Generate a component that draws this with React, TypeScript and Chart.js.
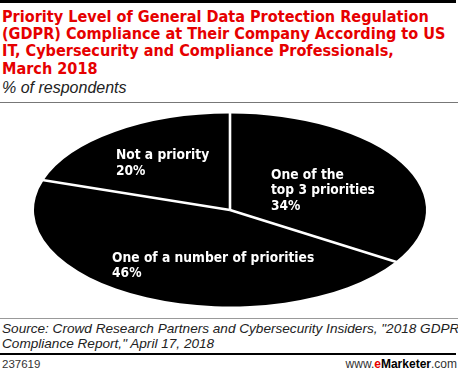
import React, { useEffect, useRef } from "react";
import { Chart, registerables } from "chart.js";

Chart.register(...registerables);

const categories = ["One of the top 3 priorities", "One of a number of priorities", "Not a priority"];
const values = [34, 46, 20];
const labelLines = [["One of the", "top 3 priorities", "34%"], ["One of a number of priorities", "46%"], ["Not a priority", "20%"]];
// label anchor (left, cap top) in ellipse-normalized units relative to pie centre
const labelAnchorsX = [0.209, -0.602, -0.582];
const labelAnchorsY = [-0.425, 0.435, -0.632];

const RX = 196;
const RY = 96.5;
const SY = RY / RX;
const LABEL_FONT = "bold 13.7px 'DejaVu Sans Condensed'";
const LINE_H = 15.5;
const CAP = 10;

const ellipsePlugin = {
  id: "ellipse",
  beforeDatasetDraw(chart: any) {
    const meta = chart.getDatasetMeta(0);
    const a = meta.data[0];
    if (!a) return;
    const ctx = chart.ctx;
    ctx.save();
    ctx.translate(a.x, a.y);
    ctx.scale(1, SY);
    ctx.translate(-a.x, -a.y);
  },
  afterDatasetDraw(chart: any) {
    const ctx = chart.ctx;
    ctx.restore();
    const meta = chart.getDatasetMeta(0);
    ctx.save();
    ctx.strokeStyle = "#ffffff";
    ctx.lineWidth = 2.6;
    meta.data.forEach((arc: any) => {
      const r = arc.outerRadius + 3;
      const ang = arc.startAngle;
      ctx.beginPath();
      ctx.moveTo(arc.x, arc.y);
      ctx.lineTo(arc.x + Math.cos(ang) * r, arc.y + Math.sin(ang) * r * SY);
      ctx.stroke();
    });
    ctx.fillStyle = "#ffffff";
    ctx.font = LABEL_FONT;
    ctx.textAlign = "left";
    ctx.textBaseline = "alphabetic";
    meta.data.forEach((arc: any, i: number) => {
      const lx = arc.x + labelAnchorsX[i] * arc.outerRadius;
      const ly = arc.y + labelAnchorsY[i] * arc.outerRadius * SY + CAP;
      labelLines[i].forEach((t, j) => ctx.fillText(t, lx, ly + j * LINE_H));
    });
    ctx.restore();
  },
};

export default function App() {
  const ref = useRef<HTMLCanvasElement>(null);
  useEffect(() => {
    document.body.style.margin = "0";
    const chart = new Chart(ref.current!, {
      type: "pie",
      data: {
        labels: categories,
        datasets: [
          {
            data: values,
            backgroundColor: "#000000",
            borderWidth: 0,
            radius: RX,
          } as any,
        ],
      },
      options: {
        animation: false,
        responsive: false,
        events: [],
        layout: { padding: { left: 2, right: 0, top: 0, bottom: 0 } },
        plugins: { legend: { display: false }, tooltip: { enabled: false } },
      },
      plugins: [ellipsePlugin],
    });
    return () => chart.destroy();
  }, []);

  const sans = "'Liberation Sans', Arial, sans-serif";
  return (
    <div style={{ position: "absolute", left: 0, top: 0, width: 458, height: 371, background: "#fff", overflow: "hidden" }}>
      <div style={{ position: "absolute", left: 0, top: 0, width: 456, height: 3, background: "#000" }} />
      <div
        style={{
          position: "absolute",
          left: 2,
          top: 7.5,
          width: 456,
          font: "bold 16.1px 'DejaVu Sans Condensed'",
          lineHeight: "17.4px",
          color: "#e60000",
          whiteSpace: "nowrap",
        }}
      >
        <div>Priority Level of General Data Protection Regulation</div>
        <div>(GDPR) Compliance at Their Company According to US</div>
        <div>IT, Cybersecurity and Compliance Professionals,</div>
        <div>March 2018</div>
      </div>
      <div style={{ position: "absolute", left: 2, top: 79, font: `italic 16px ${sans}`, color: "#222", lineHeight: "18px" }}>
        % of respondents
      </div>
      <div style={{ position: "absolute", left: 0, top: 102, width: 458, height: 1, background: "#777" }} />
      <canvas ref={ref} width={458} height={214} style={{ position: "absolute", left: 0, top: 103, width: 458, height: 214 }} />
      <div style={{ position: "absolute", left: 0, top: 318, width: 458, height: 1, background: "#999" }} />
      <div style={{ position: "absolute", left: 2, top: 320.5, font: `italic 13.6px ${sans}`, color: "#222", lineHeight: "15px", whiteSpace: "nowrap" }}>
        <div>Source: Crowd Research Partners and Cybersecurity Insiders, "2018 GDPR</div>
        <div>Compliance Report," April 17, 2018</div>
      </div>
      <div style={{ position: "absolute", left: 0, top: 353, width: 456, height: 2, background: "#000" }} />
      <div style={{ position: "absolute", left: 2, top: 358, font: `11.5px ${sans}`, color: "#333", lineHeight: "13px" }}>237619</div>
      <div style={{ position: "absolute", right: 1, top: 358, font: `12px ${sans}`, color: "#333", lineHeight: "13px" }}>
        www.<span style={{ color: "#e60000", fontWeight: "bold" }}>e</span>
        <span style={{ color: "#000", fontWeight: "bold" }}>Marketer</span>.com
      </div>
    </div>
  );
}
